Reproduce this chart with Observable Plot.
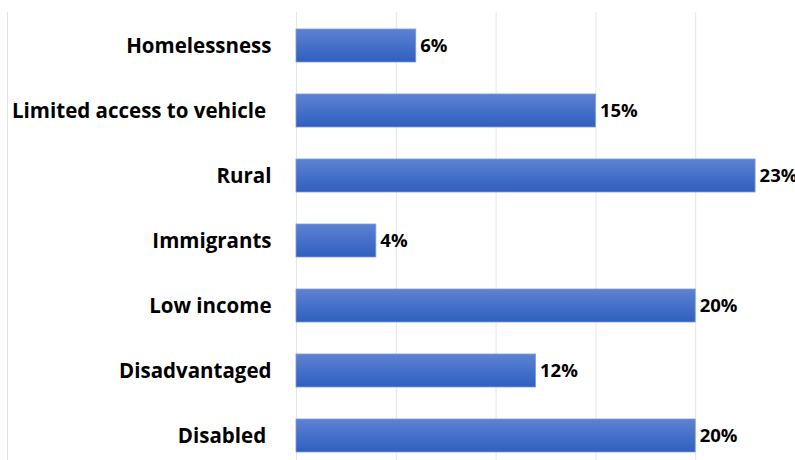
<!DOCTYPE html>
<html>
<head>
<meta charset="utf-8">
<script src="https://cdn.jsdelivr.net/npm/d3@7"></script>
<script src="https://cdn.jsdelivr.net/npm/@observablehq/plot@0.6"></script>
<style>
  html, body { margin: 0; padding: 0; background: #fff; }
  #wrap { position: relative; width: 795px; height: 460px; overflow: hidden; }
  #frame { position: absolute; left: 7px; top: 12px; width: 0; height: 460px; border-left: 1px solid #dfe3ea; }
  svg { display: block; }
  svg text { white-space: pre; }
</style>
</head>
<body>
<div id="wrap"><div id="frame"></div></div>
<script>
const categories = ["Homelessness", "Limited access to vehicle ", "Rural", "Immigrants", "Low income", "Disadvantaged", "Disabled "];
const values = [6, 15, 23, 4, 20, 12, 20];
const xTicks = [0, 5, 10, 15, 20, 25];

const data = categories.map((c, i) => ({category: c, value: values[i]}));
const font = "'Open Sans', sans-serif";

const chart = Plot.plot({
  width: 795,
  height: 460,
  marginLeft: 296,
  marginRight: 0,
  marginTop: 12,
  marginBottom: 0,
  style: {fontFamily: font, background: "transparent", overflow: "visible"},
  x: {domain: [0, 25], axis: null},
  y: {domain: categories, range: [12.5, 467.5], padding: 0, axis: null},
  marks: [
    Plot.ruleX(xTicks, {stroke: "#e2e6ee", strokeWidth: 1}),
    Plot.barX(data, {x: "value", y: "category", insetTop: 16, insetBottom: 16, fill: "url(#barGrad)", stroke: "#7f9ad8", strokeWidth: 0.8}),
    Plot.text(data, {x: "value", y: "category", text: d => d.value + "%", textAnchor: "start", dx: 4, fontSize: 18.5, fontWeight: "bold", fill: "#000"}),
    Plot.axisY({tickSize: 0, tickPadding: 25, fontSize: 20.5, fontWeight: "bold", fill: "#000", label: null})
  ]
});

const svg = d3.select(chart);
const grad = svg.insert("defs", ":first-child").append("linearGradient")
  .attr("id", "barGrad").attr("x1", 0).attr("y1", 0).attr("x2", 0).attr("y2", 1);
grad.append("stop").attr("offset", "0%").attr("stop-color", "#5d82d3");
grad.append("stop").attr("offset", "100%").attr("stop-color", "#2f5fbf");
svg.selectAll("g[aria-label='bar'] rect").attr("fill", "url(#barGrad)");

document.getElementById("wrap").appendChild(chart);
</script>
</body>
</html>
